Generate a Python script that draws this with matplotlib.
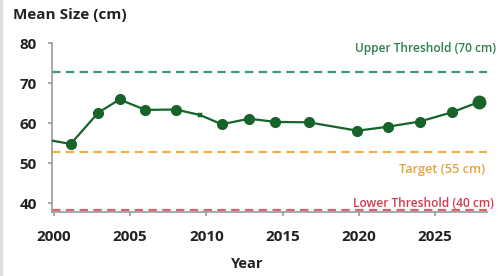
import matplotlib.pyplot as plt
import matplotlib.patches as mpatches

# data
years = [1999.9, 2001.1, 2002.9, 2004.3, 2006.0, 2008.0, 2009.6, 2011.0, 2012.8,
         2014.5, 2016.7, 2019.9, 2021.9, 2024.0, 2026.1, 2027.9]
sizes = [55.6, 54.8, 62.6, 65.9, 63.3, 63.4, 62.0, 59.7, 61.1,
         60.3, 60.2, 58.1, 59.1, 60.4, 62.7, 65.3]
upper = 72.7
target = 52.8
lower = 38.4
xticks = [2000, 2005, 2010, 2015, 2020, 2025]
yticks = [40, 50, 60, 70, 80]

plt.rcParams['font.family'] = ['Open Sans', 'DejaVu Sans']

fig = plt.figure(figsize=(4.98, 2.76), dpi=100)
ax = fig.add_axes([0.1044, 0.232, 0.8735, 0.612])

green = "#17632a"
ax.plot(years, sizes, color=green, lw=1.6, zorder=3)
ax.plot(years[1:6], sizes[1:6], "o", color=green, ms=7, zorder=4)
ax.plot(years[6], sizes[6], "x", color=green, ms=3.5, mew=1.5, zorder=4)
ax.plot(years[7:-1], sizes[7:-1], "o", color=green, ms=7, zorder=4)
ax.plot(years[-1], sizes[-1], "o", color=green, ms=9, zorder=4)

ax.axhline(upper, color="#3c9a6c", lw=1.6, dashes=(3.8, 2.4), zorder=2)
ax.axhline(target, color="#f0b040", lw=1.6, dashes=(3.8, 2.4), zorder=2)
ax.axhline(lower, color="#e0606f", lw=1.6, dashes=(3.8, 2.4), zorder=2)

ax.text(1.02, 0.97, "Upper Threshold (70 cm)", transform=ax.transAxes, ha="right", va="center",
        color="#2f7d50", fontsize=8.6, fontweight="semibold", clip_on=False)
ax.text(0.995, 0.25, "Target (55 cm)", transform=ax.transAxes, ha="right", va="center",
        color="#e3a43a", fontsize=9.2, fontweight="semibold", clip_on=False)
ax.text(1.015, 0.053, "Lower Threshold (40 cm)", transform=ax.transAxes, ha="right", va="center",
        color="#cf3a4e", fontsize=8.6, fontweight="semibold", clip_on=False)

ax.set_xlim(1999.87, 2028.4)
ax.set_ylim(37.8, 80)
ax.set_xticks(xticks)
ax.set_yticks(yticks)
for s in ["top", "right"]:
    ax.spines[s].set_visible(False)
for s in ["left", "bottom"]:
    ax.spines[s].set_color("#9a9a9a")
    ax.spines[s].set_linewidth(1.2)
ax.tick_params(colors="#9a9a9a", length=3, width=1.2)
for lab in ax.get_xticklabels() + ax.get_yticklabels():
    lab.set_color("#222222")
    lab.set_fontweight("bold")
    lab.set_fontsize(11)
ax.tick_params(axis="x", pad=10)
ax.tick_params(axis="y", pad=8)

fig.text(0.026, 0.945, "Mean Size (cm)", fontsize=11, fontweight="bold", color="#222222", va="center")
fig.text(0.496, 0.045, "Year", fontsize=10.5, fontweight="bold", color="#222222", va="center", ha="center")

fig.patches.append(mpatches.Rectangle((0, 0), 0.005, 1, transform=fig.transFigure,
                                      color="#e0e0e0", zorder=0))

fig.savefig("out.png", dpi=100)
